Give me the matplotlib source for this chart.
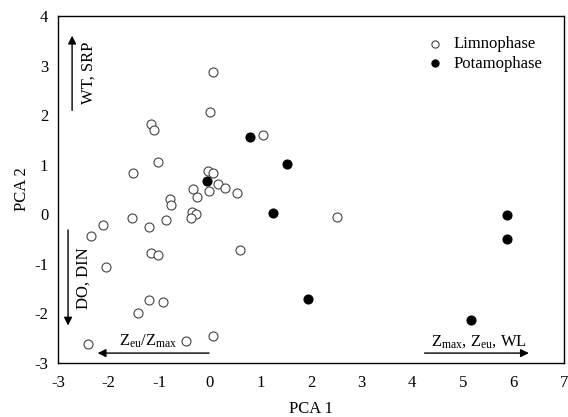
import numpy as np
import matplotlib.pyplot as plt

plt.rcParams['font.family'] = ['Liberation Serif', 'DejaVu Serif']
plt.rcParams['mathtext.fontset'] = 'custom'
plt.rcParams['mathtext.rm'] = 'Liberation Serif'
plt.rcParams['mathtext.it'] = 'Liberation Serif'
plt.rcParams['axes.unicode_minus'] = False

# limnophase samples (open circles)
limno_x = [0.07, 0.00, -1.16, -1.10, 1.05, -1.03, -1.51, -0.04, 0.06, 0.16,
           0.31, 0.54, -0.02, -0.33, -0.25, -0.79, -0.77, -0.36, -0.27, -0.37,
           -1.54, -0.86, -1.20, -2.10, -2.34, 0.60, -1.17, -1.02, -2.05, -1.20,
           -0.92, -1.42, -2.41, -0.47, 0.06, 2.51]
limno_y = [2.88, 2.07, 1.83, 1.71, 1.60, 1.05, 0.83, 0.88, 0.83, 0.61,
           0.54, 0.42, 0.47, 0.51, 0.35, 0.30, 0.18, 0.05, 0.01, -0.07,
           -0.07, -0.11, -0.26, -0.22, -0.44, -0.72, -0.78, -0.82, -1.07, -1.73,
           -1.76, -1.99, -2.61, -2.56, -2.46, -0.05]

# potamophase samples (filled circles)
potamo_x = [0.79, 1.53, -0.05, 1.24, 1.94, 5.87, 5.87, 5.16]
potamo_y = [1.56, 1.01, 0.68, 0.03, -1.71, -0.01, -0.49, -2.14]

fig = plt.figure(figsize=(5.68, 4.17), dpi=100)
ax = fig.add_axes([0.102, 0.1295, 0.891, 0.832])

ax.scatter(limno_x, limno_y, s=42, facecolors='white', edgecolors='#444444',
           linewidths=0.8, label='Limnophase', zorder=3)
ax.scatter(potamo_x, potamo_y, s=42, facecolors='black', edgecolors='black',
           linewidths=0.8, label='Potamophase', zorder=4)

ax.set_xlim(-3, 7)
ax.set_ylim(-3, 4)
ax.set_xticks(range(-3, 8))
ax.set_yticks(range(-3, 5))
ax.tick_params(length=0, labelsize=12)
ax.tick_params(axis='x', pad=9)
ax.tick_params(axis='y', pad=7)
ax.set_xlabel('PCA 1', fontsize=12, labelpad=7)
ax.set_ylabel('PCA 2', fontsize=12, labelpad=3)
for sp in ax.spines.values():
    sp.set_linewidth(1.0)

# loading arrows
arr = dict(arrowstyle='-|>', color='black', lw=1.0, mutation_scale=12)
ax.annotate('', xy=(-2.72, 3.66), xytext=(-2.72, 2.04), arrowprops=arr)
ax.annotate('', xy=(-2.80, -2.30), xytext=(-2.80, -0.26), arrowprops=arr)
ax.annotate('', xy=(-2.27, -2.80), xytext=(0.04, -2.80), arrowprops=arr)
ax.annotate('', xy=(6.36, -2.80), xytext=(4.19, -2.80), arrowprops=arr)

ax.text(-2.40, 2.85, 'WT, SRP', rotation=90, ha='center', va='center', fontsize=12)
ax.text(-2.49, -1.29, 'DO, DIN', rotation=90, ha='center', va='center', fontsize=12)
ax.text(-1.22, -2.56, r'Z$_{\mathrm{eu}}$/Z$_{\mathrm{max}}$', ha='center', va='center', fontsize=12)
ax.text(5.31, -2.56, r'Z$_{\mathrm{max}}$, Z$_{\mathrm{eu}}$, WL', ha='center', va='center', fontsize=12)

ax.legend(loc='upper right', frameon=False, fontsize=12, handletextpad=0.1,
          markerscale=0.8, borderaxespad=0.6, labelspacing=0.2,
          bbox_to_anchor=(0.99, 0.99))

fig.savefig('out.png', dpi=100)
